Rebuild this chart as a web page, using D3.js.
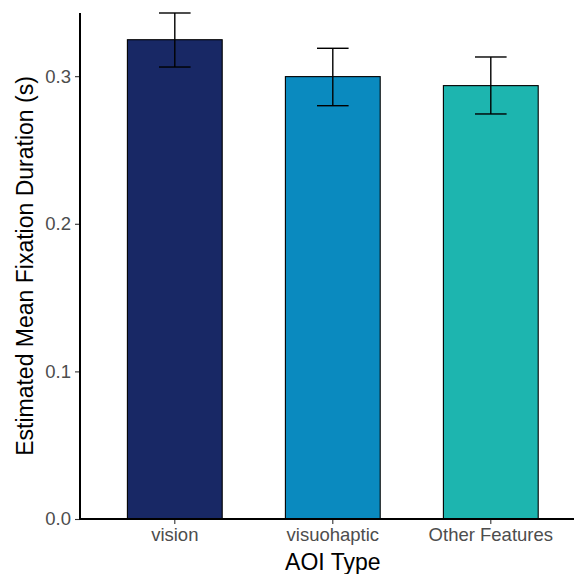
<!DOCTYPE html>
<html>
<head>
<meta charset="utf-8">
<script src="https://cdn.jsdelivr.net/npm/d3@7"></script>
<style>
  html, body { margin: 0; padding: 0; background: #fff; }
  svg { display: block; font-family: "Liberation Sans", Arial, sans-serif; }
</style>
</head>
<body>
<svg id="chart" width="574" height="574"></svg>
<script>
// AOI categories and model estimates (seconds)
const categories = ["vision", "visuohaptic", "Other Features"];
const estimates = [0.3247, 0.2997, 0.2936];
const lowerCI = [0.3062, 0.2800, 0.2744];
const upperCI = [0.3428, 0.3189, 0.3130];
const barColors = ["#182865", "#0a8abf", "#1db5af"];
const yTicks = [0.0, 0.1, 0.2, 0.3];

(function () {
const svg = d3.select("#chart");
const W = 574;
const padL = 80, padT = 13, baseY = 519;

// Discrete x: bar width 0.6 of a step, 0.6 step expansion on each side
const x = d3.scaleBand()
  .domain(categories)
  .range([padL, padL + 3.2 * 158])
  .paddingInner(0.4)
  .paddingOuter(0.3);

const y = d3.scaleLinear()
  .domain([0, d3.max(upperCI)])
  .range([baseY, padT]);

const data = categories.map((c, i) => ({
  cat: c, est: estimates[i], lo: lowerCI[i], hi: upperCI[i], color: barColors[i]
}));

// Bars
svg.append("g").selectAll("rect")
  .data(data).join("rect")
  .attr("x", d => x(d.cat))
  .attr("y", d => y(d.est))
  .attr("width", x.bandwidth())
  .attr("height", d => y(0) - y(d.est))
  .attr("fill", d => d.color)
  .attr("stroke", "#000")
  .attr("stroke-width", 1.1);

// Error bars
const capHalf = x.step() * 0.1;
const eb = svg.append("g").attr("stroke", "#000").attr("stroke-width", 1.4).attr("fill", "none");
data.forEach(d => {
  const cx = x(d.cat) + x.bandwidth() / 2;
  eb.append("line").attr("x1", cx).attr("x2", cx).attr("y1", y(d.lo)).attr("y2", y(d.hi));
  eb.append("line").attr("x1", cx - capHalf).attr("x2", cx + capHalf).attr("y1", y(d.hi)).attr("y2", y(d.hi));
  eb.append("line").attr("x1", cx - capHalf).attr("x2", cx + capHalf).attr("y1", y(d.lo)).attr("y2", y(d.lo));
});

// Y axis
const yAxis = svg.append("g")
  .attr("transform", `translate(${padL},0)`)
  .call(d3.axisLeft(y).tickValues(yTicks).tickFormat(d3.format(".1f")).tickSize(5).tickPadding(4));
yAxis.select(".domain").remove();
yAxis.selectAll(".tick line").attr("stroke", "#333").attr("stroke-width", 1.1);
yAxis.selectAll(".tick text").attr("fill", "#4d4d4d").style("font-size", "18.5px");
svg.append("line").attr("x1", padL).attr("x2", padL).attr("y1", padT).attr("y2", baseY + 0.5)
  .attr("stroke", "#000").attr("stroke-width", 2);

// X axis
const xAxis = svg.append("g")
  .attr("transform", `translate(0,${baseY})`)
  .call(d3.axisBottom(x).tickSize(5).tickPadding(4));
xAxis.select(".domain").remove();
xAxis.selectAll(".tick line").attr("stroke", "#333").attr("stroke-width", 1.1);
xAxis.selectAll(".tick text").attr("fill", "#4d4d4d").style("font-size", "18.5px");
svg.append("line").attr("x1", padL - 0.5).attr("x2", W).attr("y1", baseY).attr("y2", baseY)
  .attr("stroke", "#000").attr("stroke-width", 2);

// Axis titles
svg.append("text")
  .attr("x", x("visuohaptic") + x.bandwidth() / 2)
  .attr("y", 570)
  .attr("text-anchor", "middle")
  .style("font-size", "23px")
  .attr("fill", "#000")
  .text("AOI Type");

svg.append("text")
  .attr("transform", `translate(33,${(padT + baseY) / 2}) rotate(-90)`)
  .attr("text-anchor", "middle")
  .style("font-size", "23px")
  .attr("fill", "#000")
  .text("Estimated Mean Fixation Duration (s)");
})();
</script>
</body>
</html>
